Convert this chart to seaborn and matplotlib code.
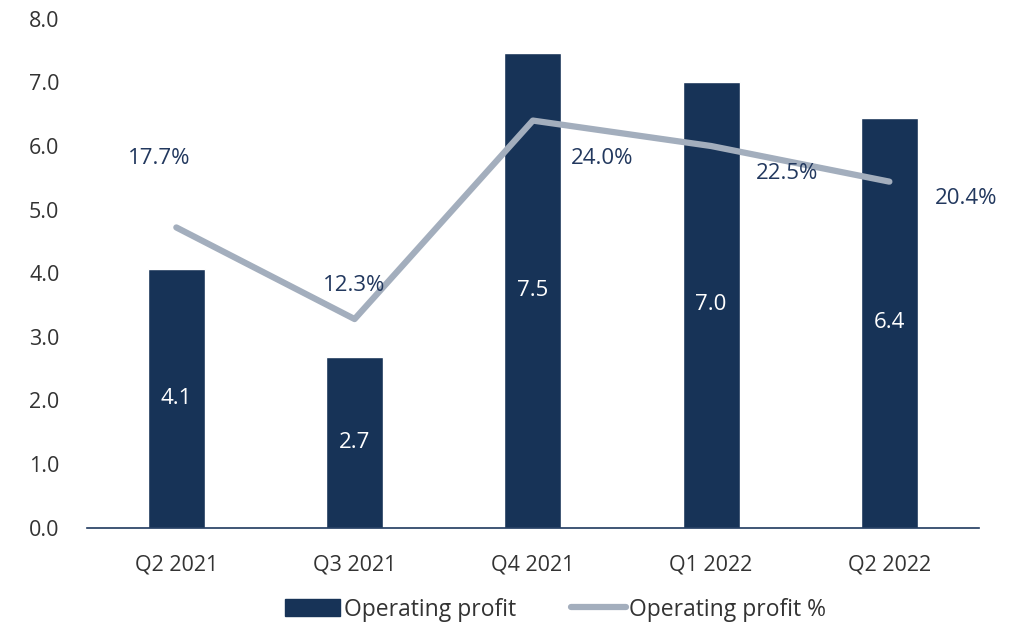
import numpy as np
import pandas as pd
import matplotlib
matplotlib.use("Agg")
import matplotlib.pyplot as plt
import seaborn as sns
from matplotlib.patches import Patch
from matplotlib.lines import Line2D

# --- DATA ---
quarters = ["Q2 2021", "Q3 2021", "Q4 2021", "Q1 2022", "Q2 2022"]
op_profit = [4.06, 2.68, 7.46, 7.01, 6.44]
op_margin = [17.7, 12.3, 24.0, 22.5, 20.4]

# label offsets for the % labels (points), hand placed like the original
pct_offsets = [(-12, 50), (0, 24), (50, -27), (55, -20), (55, -12)]

NAVY = "#173357"
GREY = "#a3aebd"
TXT = "#333333"

sns.set_theme(style="white")
plt.rcParams["font.family"] = ["Open Sans", "DejaVu Sans"]

df = pd.DataFrame({"quarter": quarters, "profit": op_profit, "margin": op_margin})

fig, ax = plt.subplots(figsize=(10.14, 6.26), dpi=100)
fig.subplots_adjust(left=0.086, right=0.965, top=0.97, bottom=0.157)

sns.barplot(data=df, x="quarter", y="profit", color=NAVY, width=0.32,
            saturation=1, ax=ax)
ax.set_xlim(-0.5, 4.5)
ax.set_ylim(0, 8)
ax.set_yticks(np.arange(0, 9, 1))
ax.set_yticklabels([f"{v:.1f}" for v in np.arange(0, 9, 1)])
ax.set_xlabel("")
ax.set_ylabel("")
ax.tick_params(axis="both", length=0, labelsize=15.5, labelcolor=TXT)
ax.tick_params(axis="x", pad=19)
ax.tick_params(axis="y", pad=20)
for s in ["top", "right", "left"]:
    ax.spines[s].set_visible(False)
ax.spines["bottom"].set_color("#1f3a5f")
ax.spines["bottom"].set_linewidth(1.2)

# value labels inside bars
for i, v in enumerate(op_profit):
    ax.text(i, v / 2, f"{v:.1f}", ha="center", va="center",
            color="white", fontsize=16)

# secondary axis for the %
ax2 = ax.twinx()
sns.lineplot(x=np.arange(len(quarters)), y=op_margin, color=GREY,
             linewidth=4.5, ax=ax2, solid_capstyle="round")
ax2.set_ylim(0, 30)
ax2.set_xlim(-0.5, 4.5)
ax2.axis("off")

for i, v in enumerate(op_margin):
    ax2.annotate(f"{v:.1f}%", (i, v), xytext=pct_offsets[i],
                 textcoords="offset points", ha="center", va="center",
                 color="#22385e", fontsize=16)

handles = [Patch(facecolor=NAVY, edgecolor=NAVY),
           Line2D([0], [0], color=GREY, linewidth=4.5, solid_capstyle="round")]
fig.legend(handles, ["Operating profit", "Operating profit %"],
           loc="lower center", bbox_to_anchor=(0.548, -0.026), ncol=2,
           frameon=False, fontsize=16.5, handlelength=2.4, handleheight=0.75,
           handletextpad=0.15, columnspacing=2.4, labelcolor=TXT)

fig.savefig("out.png", dpi=100)
